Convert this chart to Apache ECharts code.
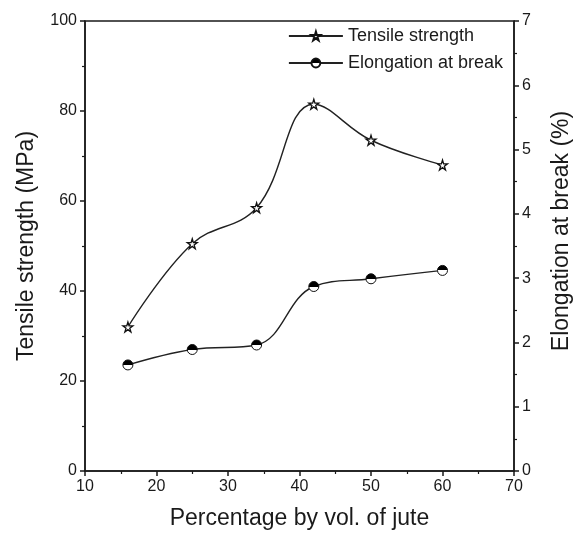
<!DOCTYPE html>
<html>
<head>
<meta charset="utf-8">
<script src="https://cdn.jsdelivr.net/npm/echarts@6/dist/echarts.min.js"></script>
<style>
  html, body { margin: 0; padding: 0; background: #fff; }
  #chart { width: 578px; height: 533px; }
</style>
</head>
<body>
<div id="chart"></div>
<script>
// jute content (% by vol.)
var jute = [16, 25, 34, 42, 50, 60]
var tensile = [32, 50.5, 58.5, 81.5, 73.5, 68]
var elongation = [1.65, 1.89, 1.96, 2.87, 2.99, 3.12]

var font = 'Liberation Sans, Arial, sans-serif'
var ink = '#1a1a1a'

function pairs(xs, ys) {
    return xs.map(function (x, i) { return [x, ys[i]] })
}

var starPath = 'path://M50,0 L61,35 L98,35 L68,57 L79,91 L50,70 L21,91 L32,57 L2,35 L39,35 Z'

var halfFill = {
    type: 'linear', x: 0, y: 0, x2: 0, y2: 1,
    colorStops: [
        { offset: 0, color: '#000' },
        { offset: 0.5, color: '#000' },
        { offset: 0.5, color: '#fff' },
        { offset: 1, color: '#fff' }
    ]
}

var chart = echarts.init(document.getElementById('chart'))

function valueAxis(opt) {
    return Object.assign({
        type: 'value',
        axisLine: { show: true, lineStyle: { color: ink, width: 1.5 } },
        axisTick: { show: true, length: 5, lineStyle: { color: ink, width: 1.5 } },
        minorTick: { show: true, splitNumber: 2, length: 3, lineStyle: { color: ink, width: 1.2 } },
        splitLine: { show: false },
        axisLabel: { color: ink, fontSize: 16, fontFamily: font },
        nameTextStyle: { color: ink, fontSize: 23, fontFamily: font }
    }, opt)
}

chart.setOption({
    animation: false,
    backgroundColor: '#fff',
    grid: {
        left: 85, right: 64, top: 21, bottom: 62,
        outerBoundsMode: 'none',
        show: true, borderColor: ink, borderWidth: 1.5
    },
    legend: {
        right: 70,
        top: 22,
        orient: 'vertical',
        itemWidth: 54,
        itemHeight: 11,
        itemGap: 9,
        textStyle: { color: ink, fontSize: 18, fontFamily: font },
        data: ['Tensile strength', 'Elongation at break']
    },
    xAxis: valueAxis({
        min: 10, max: 70, interval: 10,
        name: 'Percentage by vol. of jute',
        nameLocation: 'middle',
        nameGap: 36,
        axisLabel: { color: ink, fontSize: 16, fontFamily: font, margin: 8 }
    }),
    yAxis: [
        valueAxis({
            min: 0, max: 100, interval: 20,
            name: 'Tensile strength (MPa)',
            nameLocation: 'middle',
            nameGap: 47,
            position: 'left'
        }),
        valueAxis({
            min: 0, max: 7, interval: 1,
            name: 'Elongation at break (%)',
            nameLocation: 'middle',
            nameGap: 36,
            nameRotate: 90,
            position: 'right',
            nameTextStyle: { color: ink, fontSize: 23, fontFamily: font, padding: [0, 0, 0, 30] }
        })
    ],
    series: [
        {
            name: 'Tensile strength',
            type: 'line',
            yAxisIndex: 0,
            smooth: 0.4,
            data: pairs(jute, tensile),
            symbol: starPath,
            symbolSize: 10,
            lineStyle: { color: '#222', width: 1.4 },
            itemStyle: { color: '#fff', borderColor: '#111', borderWidth: 1.3 }
        },
        {
            name: 'Elongation at break',
            type: 'line',
            yAxisIndex: 1,
            smooth: 0.4,
            data: pairs(jute, elongation),
            symbol: 'circle',
            symbolSize: 10,
            lineStyle: { color: '#222', width: 1.4 },
            itemStyle: { color: halfFill, borderColor: '#111', borderWidth: 1 }
        }
    ]
})
</script>
</body>
</html>
